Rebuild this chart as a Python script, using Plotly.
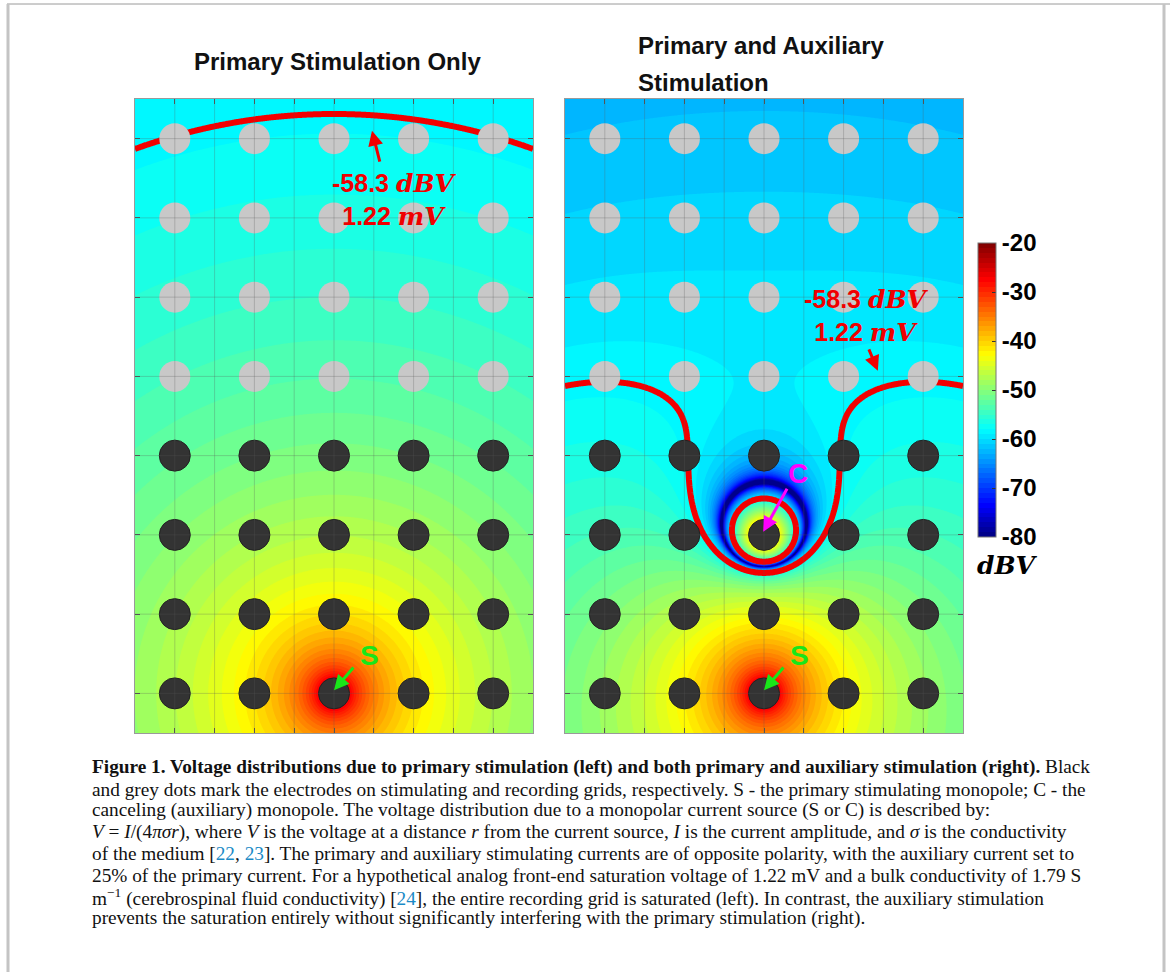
import numpy as np
import plotly.graph_objects as go

# ---------------- data ----------------
electrode_cols = [0.5, 1.5, 2.5, 3.5, 4.5]          # electrode pitch units
recording_rows = [4.5, 5.5, 6.5, 7.5]               # grey dots (recording grid)
stimulating_rows = [0.5, 1.5, 2.5, 3.5]             # black dots (stimulating grid)
source_S = (2.5, 0.5)                               # primary monopole
source_C = (2.5, 2.5)                               # canceling (auxiliary) monopole
I_primary = 0.8e-3                                  # A
aux_ratio = -0.25                                   # auxiliary current / primary current
sigma = 1.79                                        # S/m (CSF)
pitch = 4e-3                                        # m per electrode pitch
sat_dbv = -58.3                                     # 1.22 mV saturation
cbar_ticks = [-20, -30, -40, -50, -60, -70, -80]
cbar_labels = ["-20", "-30", "-40", "-50", "-60", "-70", "-80"]
panel_titles = ["Primary Stimulation Only", "Primary and Auxiliary", "Stimulation"]

W, H = 1170, 972
def fx(p): return p / W
def fy(p): return 1 - p / H

# ---------------- field: V = I / (4 pi sigma r) ----------------
xg = np.linspace(0, 5, 301)
yg = np.linspace(0, 8, 481)
X, Y = np.meshgrid(xg, yg)

def potential(src, I):
    r = np.hypot(X - src[0], Y - src[1]) * pitch
    r = np.maximum(r, 0.02 * pitch)
    return I / (4 * np.pi * sigma * r)

V_left = potential(source_S, I_primary)
V_right = V_left + potential(source_C, aux_ratio * I_primary)

def to_db(V):
    return 20 * np.log10(np.abs(V) + 1e-15)

db_left, db_right = to_db(V_left), to_db(V_right)

jet = [[0.0, "rgb(0,0,128)"], [0.11, "rgb(0,0,255)"], [0.365, "rgb(0,255,255)"],
       [0.62, "rgb(255,255,0)"], [0.873, "rgb(255,0,0)"], [1.0, "rgb(128,0,0)"]]

fig = go.Figure()

def add_panel(db, xa, ya, showscale):
    fig.add_trace(go.Contour(
        x=xg, y=yg, z=np.clip(db, -79.95, -20.05), xaxis=xa, yaxis=ya,
        colorscale=jet, zmin=-80, zmax=-20, autocontour=False,
        contours=dict(start=-80, end=-20, size=1, coloring="fill", showlines=False),
        line=dict(width=0), hoverinfo="skip", showscale=showscale,
        colorbar=dict(
            x=fx(978), xanchor="left", y=fy(390), yanchor="middle",
            len=294, lenmode="pixels", thickness=18, thicknessmode="pixels",
            tickmode="array", tickvals=cbar_ticks, ticktext=cbar_labels,
            tickfont=dict(family="Liberation Sans, Arial", size=24, color="black", weight="bold"),
            ticks="inside", ticklen=4, tickcolor="#333",
            outlinewidth=1, outlinecolor="#777", xpad=0, ypad=0,
        ),
    ))
    fig.add_trace(go.Contour(
        x=xg, y=yg, z=db, xaxis=xa, yaxis=ya, autocontour=False,
        contours=dict(start=sat_dbv, end=sat_dbv + 0.5, size=1, coloring="none"),
        line=dict(color="#f20000", width=6, smoothing=1),
        showscale=False, hoverinfo="skip",
    ))
    ex = [c for r in recording_rows for c in electrode_cols]
    ey = [r for r in recording_rows for c in electrode_cols]
    fig.add_trace(go.Scatter(x=ex, y=ey, xaxis=xa, yaxis=ya, mode="markers",
                             marker=dict(size=31, color="#c8c8c8", line=dict(width=0)),
                             hoverinfo="skip", showlegend=False))
    sx = [c for r in stimulating_rows for c in electrode_cols]
    sy = [r for r in stimulating_rows for c in electrode_cols]
    fig.add_trace(go.Scatter(x=sx, y=sy, xaxis=xa, yaxis=ya, mode="markers",
                             marker=dict(size=31, color="#333333", line=dict(width=1, color="#222222")),
                             hoverinfo="skip", showlegend=False))

add_panel(db_left, "x", "y", True)
add_panel(db_right, "x2", "y2", False)

xticks = list(np.arange(0.5, 5.0, 0.5))
yticks = list(np.arange(0.5, 8.0, 1.0))
axis_common = dict(showgrid=False, zeroline=False, showticklabels=False, ticks="inside",
                   ticklen=5, tickcolor="#555", tickwidth=1, showline=True,
                   linecolor="#9a9a9a", linewidth=1, mirror="ticks", fixedrange=True)

fig.update_layout(
    width=W, height=H, autosize=False, margin=dict(l=0, r=0, t=0, b=0),
    paper_bgcolor="white", plot_bgcolor="white", showlegend=False, hovermode=False,
    xaxis=dict(domain=[fx(135), fx(533)], range=[0, 5], tickvals=xticks, **axis_common),
    yaxis=dict(domain=[fy(733), fy(99)], range=[0, 8], tickvals=yticks, **axis_common),
    xaxis2=dict(domain=[fx(565), fx(963)], range=[0, 5], tickvals=xticks, anchor="y2", **axis_common),
    yaxis2=dict(domain=[fy(733), fy(99)], range=[0, 8], tickvals=yticks, anchor="x2", **axis_common),
)

shapes = []
for xr, yr in (("x", "y"), ("x2", "y2")):
    for v in xticks:
        shapes.append(dict(type="line", xref=xr, yref=yr, x0=v, x1=v, y0=0, y1=8, layer="above",
                           line=dict(color="rgba(90,90,90,0.28)", width=1)))
    for v in yticks:
        shapes.append(dict(type="line", xref=xr, yref=yr, x0=0, x1=5, y0=v, y1=v, layer="above",
                           line=dict(color="rgba(90,90,90,0.28)", width=1)))
# outer frame of the figure
shapes.append(dict(type="line", xref="paper", yref="paper", x0=fx(7), x1=fx(1170), y0=fy(4), y1=fy(4),
                   line=dict(color="#9a9a9a", width=1)))
shapes.append(dict(type="line", xref="paper", yref="paper", x0=fx(8), x1=fx(8), y0=fy(4), y1=0,
                   line=dict(color="#c4c4c4", width=3)))
shapes.append(dict(type="line", xref="paper", yref="paper", x0=fx(1164), x1=fx(1164), y0=fy(4), y1=0,
                   line=dict(color="#c4c4c4", width=3)))
fig.update_layout(shapes=shapes)

ann = []
title_font = dict(family="Liberation Sans, Arial", size=24, color="#111", weight="bold")
ann.append(dict(text=panel_titles[0], xref="paper", yref="paper", x=fx(338), y=fy(62),
                xanchor="center", yanchor="middle", showarrow=False, font=title_font))
ann.append(dict(text=panel_titles[1], xref="paper", yref="paper", x=fx(636), y=fy(46),
                xanchor="left", yanchor="middle", showarrow=False, font=title_font))
ann.append(dict(text=panel_titles[2], xref="paper", yref="paper", x=fx(636), y=fy(83),
                xanchor="left", yanchor="middle", showarrow=False, font=title_font))

red = "#f00000"
sans_b = dict(family="Liberation Sans, Arial", size=25, color=red, weight="bold")
ital = "<span style='font-family:DejaVu Serif;font-style:italic'>%s</span>"
for (cx, cy) in ((394, 200), (866, 316)):
    ann.append(dict(text="-58.3 " + ital % "dBV" + "<br>1.22 " + ital % "mV",
                    xref="paper", yref="paper", x=fx(cx), y=fy(cy),
                    xanchor="center", yanchor="middle", align="center", showarrow=False,
                    font=sans_b))

def arrow(xr, yr, hx, hy, tx, ty, color):
    return dict(text="", xref=xr, yref=yr, axref=xr, ayref=yr, x=hx, y=hy, ax=tx, ay=ty,
                showarrow=True, arrowhead=2, arrowsize=1, arrowwidth=3, arrowcolor=color,
                standoff=0, startstandoff=0)

ann.append(arrow("x", "y", 2.977, 7.60, 3.08, 7.19, red))
ann.append(arrow("x2", "y2", 3.93, 4.57, 3.81, 4.86, red))
green = "#19e619"
magenta = "#ff00ff"
for xr, yr in (("x", "y"), ("x2", "y2")):
    ann.append(arrow(xr, yr, 2.50, 0.54, 2.76, 0.845, green))
    ann.append(dict(text="S", xref=xr, yref=yr, x=2.94, y=0.98, xanchor="center", yanchor="middle",
                    showarrow=False, font=dict(family="Liberation Sans, Arial", size=28, color=green, weight="bold")))
ann.append(arrow("x2", "y2", 2.49, 2.54, 2.80, 3.10, magenta))
ann.append(dict(text="C", xref="x2", yref="y2", x=2.93, y=3.28, xanchor="center", yanchor="middle",
                showarrow=False, font=dict(family="Liberation Sans, Arial", size=28, color=magenta, weight="bold")))

ann.append(dict(text="dBV", xref="paper", yref="paper", x=fx(1007), y=fy(565), xanchor="center",
                yanchor="middle", showarrow=False,
                font=dict(family="DejaVu Serif", size=25, color="black", style="italic", weight="bold")))

blue = "#1a8ac6"
def cite(n): return "<span style='color:%s'>%s</span>" % (blue, n)
caption = [
    "<b>Figure 1. Voltage distributions due to primary stimulation (left) and both primary and auxiliary stimulation (right).</b> Black",
    "and grey dots mark the electrodes on stimulating and recording grids, respectively. S - the primary stimulating monopole; C - the",
    "canceling (auxiliary) monopole. The voltage distribution due to a monopolar current source (S or C) is described by:",
    "<i>V</i> = <i>I</i>/(4<i>πσr</i>), where <i>V</i> is the voltage at a distance <i>r</i> from the current source, <i>I</i> is the current amplitude, and <i>σ</i> is the conductivity",
    "of the medium [" + cite("22") + ", " + cite("23") + "]. The primary and auxiliary stimulating currents are of opposite polarity, with the auxiliary current set to",
    "25% of the primary current. For a hypothetical analog front-end saturation voltage of 1.22 mV and a bulk conductivity of 1.79 S",
    "m<sup>−1</sup> (cerebrospinal fluid conductivity) [" + cite("24") + "], the entire recording grid is saturated (left). In contrast, the auxiliary stimulation",
    "prevents the saturation entirely without significantly interfering with the primary stimulation (right).",
]
line_y = [767, 789, 810, 832, 853, 875, 897, 918]
for t, ly in zip(caption, line_y):
    ann.append(dict(text=t, xref="paper", yref="paper", x=fx(90), y=fy(ly), xanchor="left",
                    yanchor="middle", showarrow=False,
                    font=dict(family="Liberation Serif, Times New Roman", size=19.3, color="#111")))

fig.update_layout(annotations=ann)
fig.write_html("out.html")
